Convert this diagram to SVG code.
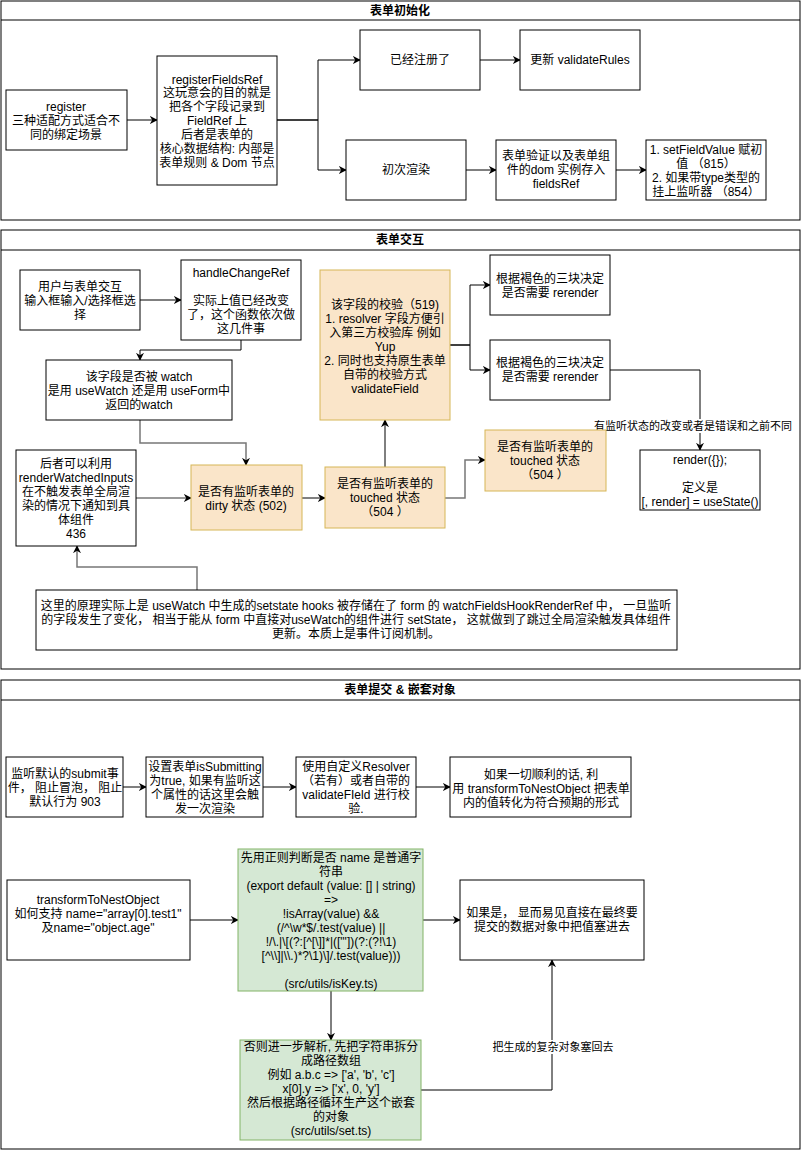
<svg xmlns="http://www.w3.org/2000/svg" width="801" height="1151" viewBox="0 0 801 1151">
<defs>
<marker id="arr" viewBox="0 0 10 10" refX="9" refY="5" markerWidth="8" markerHeight="8" markerUnits="userSpaceOnUse" orient="auto">
<path d="M0,0 L10,5 L0,10 L3,5 z" fill="#000"/>
</marker>
<style>
text{font-family:"Liberation Sans","Noto Sans CJK SC",sans-serif;font-size:12px;fill:#000;text-anchor:middle}
.title{font-weight:bold}
.sec{fill:#fff;stroke:#000;stroke-width:1}
.box{fill:#fff;stroke:#000;stroke-width:1}
.org{fill:#fae5c9;stroke:#d6b656;stroke-width:1}
.grn{fill:#d5e8d4;stroke:#82b366;stroke-width:1}
.c{fill:none;stroke:#000;stroke-width:1;marker-end:url(#arr)}
.g{fill:none;stroke:#777;stroke-width:1.5;marker-end:url(#arr)}
.lbl{font-size:11px}
</style>
</defs>
<rect width="801" height="1151" fill="#fff"/>

<g id="section1">
<rect class="sec" x="1" y="1" width="799" height="219"/>
<line x1="1" y1="20" x2="800" y2="20" stroke="#000"/>
<text class="title" x="400" y="15">表单初始化</text>
</g>
<g id="section2">
<rect class="sec" x="1" y="230" width="799" height="439"/>
<line x1="1" y1="250" x2="800" y2="250" stroke="#000"/>
<text class="title" x="400" y="244">表单交互</text>
</g>
<g id="section3">
<rect class="sec" x="1" y="680" width="799" height="469"/>
<line x1="1" y1="700" x2="800" y2="700" stroke="#000"/>
<text class="title" x="400" y="694">表单提交 &amp; 嵌套对象</text>
</g>

<g id="connectors">
<path class="c" d="M127,120 L157,120"/>
<path class="c" d="M277,120 L318,120 L318,60 L360,60"/>
<path class="c" d="M277,120 L318,120 L318,170 L346,170"/>
<path class="c" d="M480,60 L520,60"/>
<path class="c" d="M466,170 L496,170"/>
<path class="c" d="M616,170 L646,170"/>

<path class="c" d="M140,300 L181,300"/>
<path class="c" d="M241,340 L241,350 L140,350 L140,360"/>
<path class="g" d="M140,420 L140,443 L246,443 L246,465"/>
<path class="g" d="M136,498 L191,498"/>
<path class="c" d="M302,498 L325,498" stroke-width="1.5"/>
<path class="c" d="M385,467 L385,420"/>
<path class="g" d="M445,498 L465,498 L465,460 L485,460"/>
<path class="c" d="M450,345 L470,345 L470,285 L490,285"/>
<path class="c" d="M450,345 L470,345 L470,370 L490,370"/>
<path class="c" d="M610,370 L700,370 L700,450"/>
<path class="g" d="M197,590 L197,567 L77,567 L77,546"/>

<path class="c" d="M123,787 L146,787" stroke-width="1.5"/>
<path class="c" d="M263,787 L296,787"/>
<path class="c" d="M416,787 L450,787" stroke-width="1.5"/>
<path class="c" d="M190,920 L238,920"/>
<path class="c" d="M423,920 L460,920"/>
<path class="c" d="M331,991 L331,1040"/>
<path class="c" d="M421,1090 L552,1090 L552,960"/>
</g>

<g id="label-render">
<rect x="594" y="419" width="198" height="14" fill="#fff"/>
<text class="lbl" x="693" y="430">有监听状态的改变或者是错误和之前不同</text>
</g>
<g id="label-back">
<rect x="493" y="1040" width="120" height="14" fill="#fff"/>
<text class="lbl" x="553" y="1051">把生成的复杂对象塞回去</text>
</g>

<g id="register">
<rect class="box" x="6" y="90" width="121" height="60"/>
<text x="66" y="111">register</text>
<text x="66" y="125">三种适配方式适合不</text>
<text x="66" y="139">同的绑定场景</text>
</g>
<g id="registerFieldsRef">
<rect class="box" x="157" y="56" width="120" height="129"/>
<text x="217" y="84">registerFieldsRef</text>
<text x="217" y="97">这玩意会的目的就是</text>
<text x="217" y="111">把各个字段记录到</text>
<text x="217" y="125">FieldRef 上</text>
<text x="217" y="139">后者是表单的</text>
<text x="217" y="153">核心数据结构: 内部是</text>
<text x="217" y="167">表单规则 &amp; Dom 节点</text>
</g>
<g id="registered">
<rect class="box" x="360" y="30" width="120" height="60"/>
<text x="420" y="64">已经注册了</text>
</g>
<g id="updateRules">
<rect class="box" x="520" y="30" width="120" height="60"/>
<text x="580" y="64">更新 validateRules</text>
</g>
<g id="firstRender">
<rect class="box" x="346" y="140" width="120" height="60"/>
<text x="406" y="174">初次渲染</text>
</g>
<g id="storeFieldsRef">
<rect class="box" x="496" y="140" width="120" height="60"/>
<text x="556" y="160">表单验证以及表单组</text>
<text x="556" y="174">件的dom 实例存入</text>
<text x="556" y="188">fieldsRef</text>
</g>
<g id="setFieldValue">
<rect class="box" x="646" y="140" width="120" height="60"/>
<text x="706" y="154">1. setFieldValue 赋初</text>
<text x="706" y="168">值 （815）</text>
<text x="706" y="182">2. 如果带type类型的</text>
<text x="706" y="196">挂上监听器 （854）</text>
</g>

<g id="userInteract">
<rect class="box" x="20" y="270" width="120" height="60"/>
<text x="80" y="291">用户与表单交互</text>
<text x="80" y="305">输入框输入/选择框选</text>
<text x="80" y="319">择</text>
</g>
<g id="handleChangeRef">
<rect class="box" x="181" y="260" width="120" height="80"/>
<text x="241" y="277">handleChangeRef</text>
<text x="241" y="305">实际上值已经改变</text>
<text x="241" y="319">了，这个函数依次做</text>
<text x="241" y="333">这几件事</text>
</g>
<g id="isWatched">
<rect class="box" x="46" y="360" width="186" height="60"/>
<text x="139" y="381">该字段是否被 watch</text>
<text x="139" y="395">是用 useWatch 还是用 useForm中</text>
<text x="139" y="409">返回的watch</text>
</g>
<g id="validate">
<rect class="org" x="320" y="270" width="130" height="150"/>
<text x="385" y="309">该字段的校验（519)</text>
<text x="385" y="323">1. resolver 字段方便引</text>
<text x="385" y="337">入第三方校验库 例如</text>
<text x="385" y="351">Yup</text>
<text x="385" y="365">2. 同时也支持原生表单</text>
<text x="385" y="379">自带的校验方式</text>
<text x="385" y="393">validateField</text>
</g>
<g id="rerender1">
<rect class="box" x="490" y="255" width="120" height="60"/>
<text x="550" y="283">根据褐色的三块决定</text>
<text x="550" y="297">是否需要 rerender</text>
</g>
<g id="rerender2">
<rect class="box" x="490" y="340" width="120" height="60"/>
<text x="550" y="367">根据褐色的三块决定</text>
<text x="550" y="381">是否需要 rerender</text>
</g>
<g id="render">
<rect class="box" x="640" y="450" width="120" height="60"/>
<text x="700" y="464">render({});</text>
<text x="700" y="492">定义是</text>
<text x="700" y="506">[, render] = useState()</text>
</g>
<g id="renderWatchedInputs">
<rect class="box" x="16" y="450" width="120" height="96"/>
<text x="76" y="468">后者可以利用</text>
<text x="76" y="482">renderWatchedInputs</text>
<text x="76" y="496">在不触发表单全局渲</text>
<text x="76" y="510">染的情况下通知到具</text>
<text x="76" y="524">体组件</text>
<text x="76" y="538">436</text>
</g>
<g id="dirty">
<rect class="org" x="191" y="465" width="111" height="65"/>
<text x="246" y="496">是否有监听表单的</text>
<text x="246" y="510">dirty 状态 (502)</text>
</g>
<g id="touched">
<rect class="org" x="325" y="467" width="120" height="61"/>
<text x="385" y="488">是否有监听表单的</text>
<text x="385" y="502">touched 状态</text>
<text x="385" y="516">（504 ）</text>
</g>
<g id="touched2">
<rect class="org" x="485" y="430" width="121" height="61"/>
<text x="545" y="451">是否有监听表单的</text>
<text x="545" y="465">touched 状态</text>
<text x="545" y="479">（504 ）</text>
</g>
<g id="principle">
<rect class="box" x="36" y="590" width="641" height="60"/>
<text x="356" y="610">这里的原理实际上是 useWatch 中生成的setstate hooks 被存储在了 form 的 watchFieldsHookRenderRef 中， 一旦监听</text>
<text x="356" y="624">的字段发生了变化， 相当于能从 form 中直接对useWatch的组件进行 setState， 这就做到了跳过全局渲染触发具体组件</text>
<text x="356" y="638">更新。本质上是事件订阅机制。</text>
</g>

<g id="submitEvent">
<rect class="box" x="6" y="757" width="117" height="60"/>
<text x="65" y="778">监听默认的submit事</text>
<text x="65" y="792">件， 阻止冒泡， 阻止</text>
<text x="65" y="806">默认行为 903</text>
</g>
<g id="isSubmitting">
<rect class="box" x="146" y="757" width="117" height="60"/>
<text x="205" y="771">设置表单isSubmitting</text>
<text x="205" y="785">为true, 如果有监听这</text>
<text x="205" y="799">个属性的话这里会触</text>
<text x="205" y="813">发一次渲染</text>
</g>
<g id="resolver">
<rect class="box" x="296" y="757" width="120" height="60"/>
<text x="356" y="771">使用自定义Resolver</text>
<text x="356" y="785">（若有）或者自带的</text>
<text x="356" y="799">validateFIeld 进行校</text>
<text x="356" y="813">验.</text>
</g>
<g id="transform">
<rect class="box" x="450" y="757" width="181" height="60"/>
<text x="541" y="779">如果一切顺利的话, 利</text>
<text x="541" y="793">用 transformToNestObject 把表单</text>
<text x="541" y="807">内的值转化为符合预期的形式</text>
</g>
<g id="transformToNestObject">
<rect class="box" x="7" y="880" width="183" height="80"/>
<text x="98" y="904">transformToNestObject</text>
<text x="98" y="918">如何支持 name="array[0].test1"</text>
<text x="98" y="932">及name="object.age"</text>
</g>
<g id="isKey">
<rect class="grn" x="238" y="849" width="185" height="142"/>
<text x="331" y="862">先用正则判断是否 name 是普通字</text>
<text x="331" y="876">符串</text>
<text x="331" y="890">(export default (value: [] | string)</text>
<text x="331" y="904">=&gt;</text>
<text x="331" y="918">!isArray(value) &amp;&amp;</text>
<text x="331" y="932">(/^\w*$/.test(value) ||</text>
<text x="331" y="946">!/\.|\[(?:[^[\]]*|(["'])(?:(?!\1)</text>
<text x="331" y="960">[^\\]|\\.)*?\1)\]/.test(value)))</text>
<text x="331" y="988">(src/utils/isKey.ts)</text>
</g>
<g id="direct">
<rect class="box" x="460" y="880" width="184" height="80"/>
<text x="552" y="917">如果是， 显而易见直接在最终要</text>
<text x="552" y="931">提交的数据对象中把值塞进去</text>
</g>
<g id="setTs">
<rect class="grn" x="240" y="1040" width="181" height="100"/>
<text x="331" y="1051">否则进一步解析, 先把字符串拆分</text>
<text x="331" y="1065">成路径数组</text>
<text x="331" y="1079">例如 a.b.c =&gt; ['a', 'b', 'c']</text>
<text x="331" y="1093">x[0].y =&gt; ['x', 0, 'y']</text>
<text x="331" y="1107">然后根据路径循环生产这个嵌套</text>
<text x="331" y="1121">的对象</text>
<text x="331" y="1135">(src/utils/set.ts)</text>
</g>
</svg>
